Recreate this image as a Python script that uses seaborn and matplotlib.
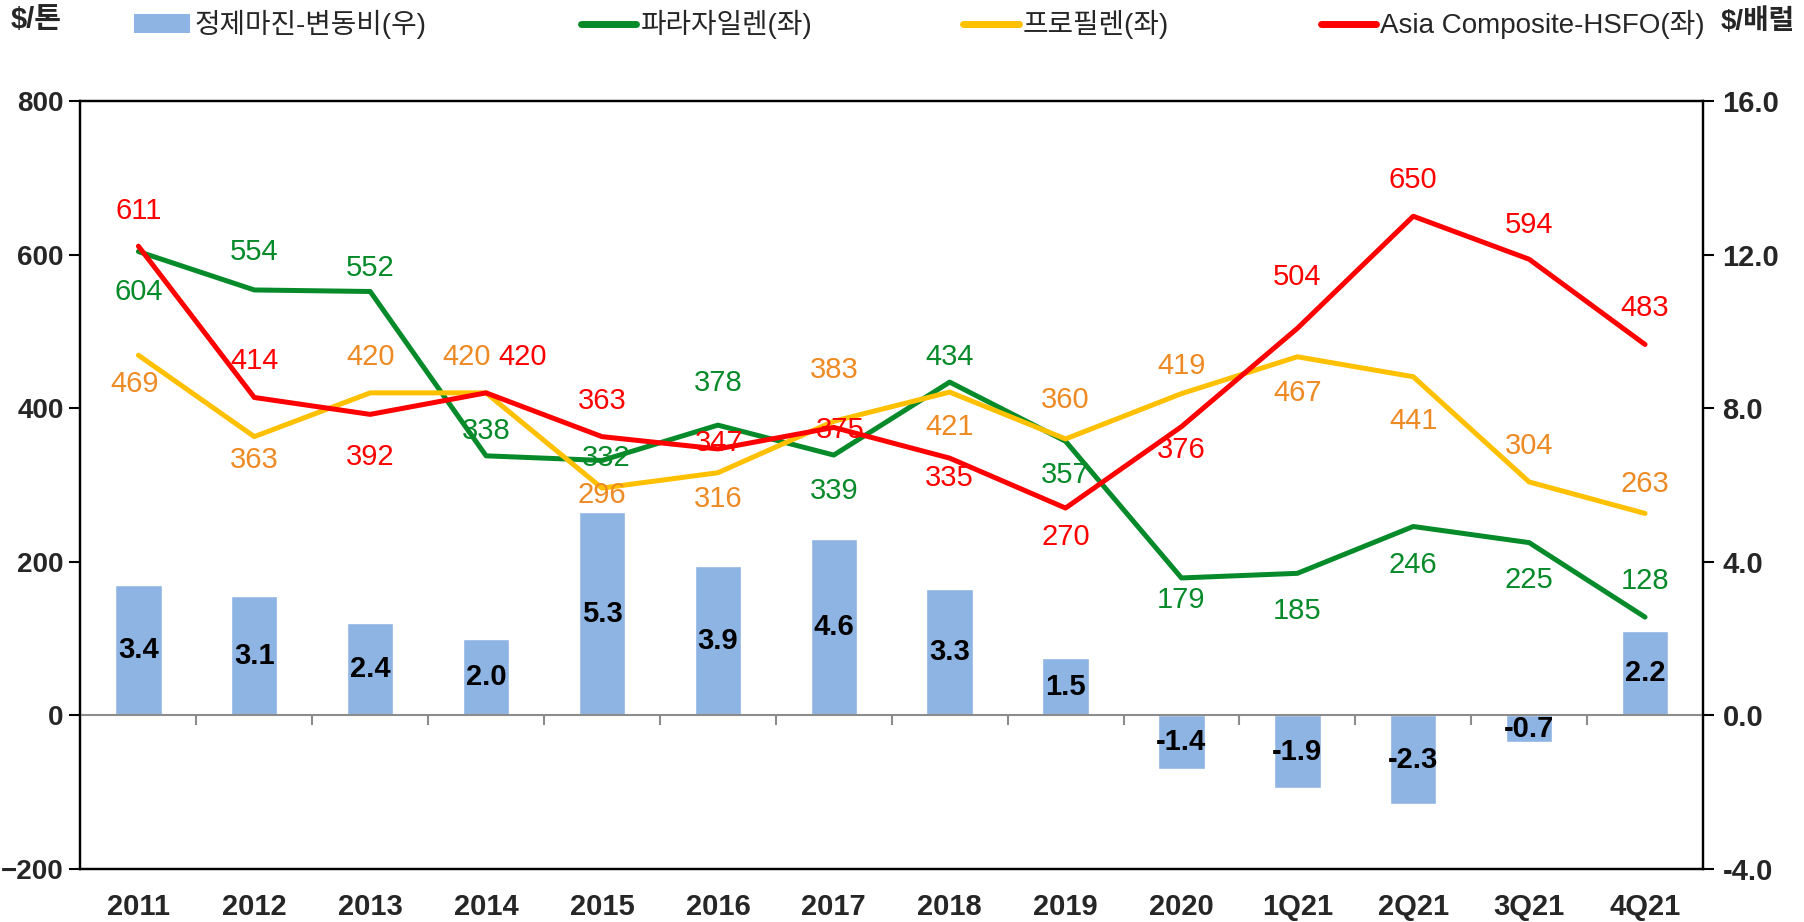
import numpy as np
import pandas as pd
import matplotlib
matplotlib.use("Agg")
import matplotlib.pyplot as plt
from matplotlib import font_manager
from matplotlib.patches import Patch
from matplotlib.lines import Line2D
import seaborn as sns

# -----------------------------
# data
# -----------------------------
periods = ["2011", "2012", "2013", "2014", "2015", "2016", "2017", "2018",
           "2019", "2020", "1Q21", "2Q21", "3Q21", "4Q21"]
margin = [3.4, 3.1, 2.4, 2.0, 5.3, 3.9, 4.6, 3.3, 1.5, -1.4, -1.9, -2.3, -0.7, 2.2]
paraxylene = [604, 554, 552, 338, 332, 378, 339, 434, 357, 179, 185, 246, 225, 128]
propylene = [469, 363, 420, 420, 296, 316, 383, 421, 360, 419, 467, 441, 304, 263]
hsfo = [611, 414, 392, 420, 363, 347, 375, 335, 270, 376, 504, 650, 594, 483]

# label offsets in points (dx, dy) - layout only
px_off = [(0, -29), (0, 27), (0, 17), (0, 18), (3, 2), (0, 30), (0, -26),
          (0, 18), (0, -24), (0, -16), (0, -27), (0, -28), (0, -27), (0, 26)]
pp_off = [(-3, -21), (0, -17), (0, 26), (-14, 26), (0, -5), (0, -19), (0, 37),
          (0, -25), (0, 28), (0, 20), (0, -26), (0, -32), (0, 26), (0, 21)]
hs_off = [(0, 25), (0, 26), (0, -31), (26, 26), (0, 26), (1, 4), (5, -2),
          (0, -14), (0, -21), (0, -17), (0, 37), (0, 26), (0, 25), (0, 26)]

df = pd.DataFrame({"period": periods, "margin": margin, "px": paraxylene,
                   "pp": propylene, "hsfo": hsfo})

# -----------------------------
# fonts / colours
# -----------------------------
def have(name):
    try:
        font_manager.findfont(name, fallback_to_default=False)
        return True
    except Exception:
        return False

narrow = "Liberation Sans Narrow" if have("Liberation Sans Narrow") else "Liberation Sans"
sns.set_style("white")
plt.rcParams["font.family"] = [narrow, "Noto Sans CJK KR", "DejaVu Sans"]

BAR = "#8EB4E3"
GREEN = "#078A2A"
YELLOW = "#FFC000"
ORANGE = "#EE8A24"
RED = "#FF0000"

# -----------------------------
# figure
# -----------------------------
fig = plt.figure(figsize=(18.04, 9.22), dpi=100)
ax = fig.add_axes([0.0446, 0.0575, 0.8994, 0.8329])
ax2 = ax.twinx()

sns.barplot(data=df, x="period", y="margin", ax=ax2, color=BAR, width=0.4,
            saturation=1, zorder=1)
ax2.set_ylim(-4, 16)
ax2.set_yticks(np.arange(-4, 17, 4))
ax2.set_yticklabels([f"{v:.1f}" for v in np.arange(-4, 17, 4)])
ax2.set_ylabel("")
for i, v in enumerate(margin):
    ax2.text(i, v / 2, f"{v:.1f}", ha="center", va="center", fontsize=21,
             fontweight="bold", color="black", family=narrow)

ax.set_zorder(ax2.get_zorder() + 1)
ax.patch.set_visible(False)

series = [("px", GREEN, GREEN, px_off), ("pp", YELLOW, ORANGE, pp_off),
          ("hsfo", RED, RED, hs_off)]
for col, lc, tc, offs in series:
    sns.lineplot(data=df, x="period", y=col, ax=ax, color=lc, linewidth=3.6,
                 sort=False, zorder=3)
for col, lc, tc, offs in series:
    for i, v in enumerate(df[col]):
        ax.annotate(str(v), (i, v), xytext=offs[i], textcoords="offset points",
                    ha="center", va="center", fontsize=21, color=tc,
                    family=narrow, zorder=5)

ax.set_xlim(-0.5, len(periods) - 0.5)
ax.set_ylim(-200, 800)
ax.set_yticks(np.arange(-200, 801, 200))
ax.set_xlabel("")
ax.set_ylabel("")

# zero line and category ticks on it
ax.axhline(0, color="#8C8C8C", lw=1.5, zorder=2)
ax.vlines(np.arange(len(periods) - 1) + 0.5, -12, 0, color="#8C8C8C", lw=1.5)

for a in (ax, ax2):
    for s in a.spines.values():
        s.set_color("black")
        s.set_linewidth(1.6)
        s.set_visible(True)

ax.tick_params(axis="x", length=0, pad=17, labelsize=21)
ax.tick_params(axis="y", length=8, width=1.5, direction="out", labelsize=20,
               pad=4, color="black")
ax2.tick_params(axis="y", length=8, width=1.5, direction="out", labelsize=21,
                pad=6, color="black")
for lab in ax.get_xticklabels() + ax.get_yticklabels() + ax2.get_yticklabels():
    lab.set_fontweight("bold")
    lab.set_family(narrow)

# unit labels
fig.text(0.006, 0.978, "$/톤", fontsize=21, fontweight="bold", va="center",
         ha="left", family=[narrow, "Noto Sans CJK KR"])
fig.text(0.995, 0.976, "$/배럴", fontsize=20, fontweight="bold", va="center",
         ha="right", family=[narrow, "Noto Sans CJK KR"])

# legend: one entry per legend so each sits where the reference has it
handles = [Patch(facecolor=BAR, edgecolor="none"),
           Line2D([], [], color=GREEN, lw=5, solid_capstyle="round"),
           Line2D([], [], color=YELLOW, lw=5, solid_capstyle="round"),
           Line2D([], [], color=RED, lw=5, solid_capstyle="round")]
labels = ["정제마진-변동비(우)", "파라자일렌(좌)", "프로필렌(좌)", "Asia Composite-HSFO(좌)"]
legend_x = [0.0745, 0.322, 0.534, 0.732]
for h, lab, lx in zip(handles, labels, legend_x):
    leg = fig.legend([h], [lab], loc="center left", bbox_to_anchor=(lx, 0.973),
                     frameon=False, handlelength=2.0, handletextpad=0.15,
                     borderpad=0, borderaxespad=0,
                     prop={"family": [narrow, "Noto Sans CJK KR"], "size": 20})

fig.savefig("out.png", dpi=100)
